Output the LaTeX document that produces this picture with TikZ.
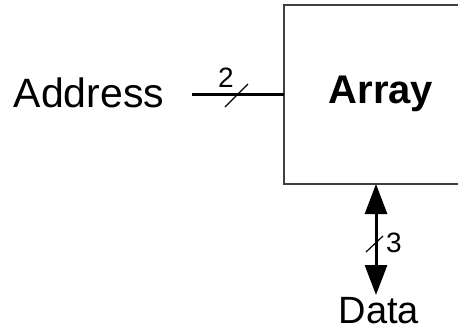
\documentclass[tikz,border=0pt]{standalone}
\usepackage{fontspec}
\setmainfont{Liberation Sans}
\usetikzlibrary{arrows.meta}
\tikzset{
  bigtext/.style={font=\fontsize{41}{48}\selectfont, inner sep=0pt, anchor=base},
  smalltext/.style={font=\fontsize{28}{32}\selectfont, inner sep=0pt, anchor=base},
  bus/.style={line width=3pt},
  slash/.style={line width=1.2pt},
  blockbox/.style={draw=black!75, line width=1.3pt, fill=none},
}
\begin{document}
\begin{tikzpicture}[x=1pt,y=-1pt]
\useasboundingbox (0,0) rectangle (458,330);
\clip (0,0) rectangle (458,330);
\draw[blockbox] (284,5) rectangle (468,184);
\coordinate (boxW) at (284,94);
\coordinate (boxS) at (376,184);
\node[bigtext] (addr) at (89,107) {Address};
\node[bigtext, font=\fontsize{40}{46}\selectfont\bfseries] (arr) at (381,103) {Array};
\node[bigtext, font=\fontsize{38}{44}\selectfont] (data) at (379,323) {Data};
\coordinate (astart) at (192,94);
\draw[bus] (astart) -- (boxW);
\draw[slash] (225,107) -- (248,84);
\node[smalltext] (two) at (226,87) {2};
\coordinate (dtip) at (376,295);
\draw[bus, {Triangle[length=30pt,width=22pt]}-{Triangle[length=30pt,width=22pt]}] (boxS) -- (dtip);
\draw[slash] (366,252) -- (383,236);
\node[smalltext] (three) at (394,252) {3};
\end{tikzpicture}
\end{document}
